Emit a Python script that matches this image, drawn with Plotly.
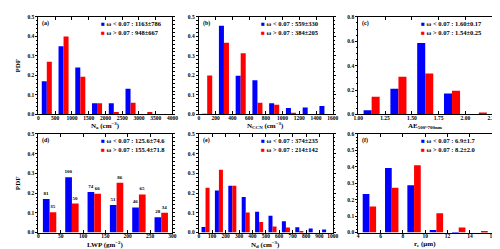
import plotly.graph_objects as go
from plotly.subplots import make_subplots

# ---------------- data ----------------
na_x = [250, 750, 1250, 1750, 2250, 2750, 3250]
na_low = [0.17, 0.35, 0.24, 0.058, 0.058, 0.132, 0.0]
na_high = [0.27, 0.40, 0.193, 0.058, 0.012, 0.06, 0.012]

ccn_x = [100, 300, 500, 700, 900, 1100, 1300, 1500]
ccn_low = [0.003, 0.455, 0.198, 0.175, 0.058, 0.033, 0.035, 0.043]
ccn_high = [0.20, 0.367, 0.313, 0.06, 0.05, 0.008, 0.0, 0.0]

ae_x = [1.125, 1.375, 1.625, 1.875, 2.125]
ae_low = [0.035, 0.21, 0.585, 0.172, 0.0]
ae_high = [0.145, 0.31, 0.335, 0.195, 0.015]

lwp_x = [25, 75, 125, 175, 225, 275]
lwp_low = [0.17, 0.28, 0.205, 0.14, 0.127, 0.078]
lwp_high = [0.103, 0.147, 0.197, 0.252, 0.193, 0.10]
lwp_low_n = ["81", "100", "74", "51", "46", "28"]
lwp_high_n = ["35", "50", "66", "86", "65", "34"]

nd_x = [50, 150, 250, 350, 450, 550, 650, 750, 850, 950]
nd_low = [0.028, 0.213, 0.237, 0.18, 0.105, 0.085, 0.057, 0.027, 0.02, 0.015]
nd_high = [0.227, 0.318, 0.237, 0.102, 0.053, 0.03, 0.025, 0.003, 0.0, 0.0]

re_x = [5, 7, 9, 11, 13, 15]
re_low = [0.235, 0.393, 0.288, 0.015, 0.002, 0.0]
re_high = [0.158, 0.272, 0.41, 0.117, 0.03, 0.006]

# tick labels
na_ticks = ["0", "500", "1000", "1500", "2000", "2500", "3000", "3500", "4000"]
ccn_ticks = ["0", "200", "400", "600", "800", "1000", "1200", "1400", "1600"]
ae_ticks = ["1.00", "1.25", "1.50", "1.75", "2.00", "2.25"]
lwp_ticks = ["0", "50", "100", "150", "200", "250", "300"]
nd_ticks = ["0", "100", "200", "300", "400", "500", "600", "700", "800", "900", "1000"]
re_ticks = ["4", "6", "8", "10", "12", "14", "16"]

panel_labels = ["(a)", "(b)", "(c)", "(d)", "(e)", "(f)"]
legend_low = ["1163±786", "559±330", "1.60±0.17", "125.6±74.6", "374±235", "6.9±1.7"]
legend_high = ["948±667", "384±205", "1.54±0.25", "155.4±71.8", "214±142", "8.2±2.0"]
x_titles = ["N<sub>a</sub> (cm<sup>−3</sup>)", "N<sub>CCN</sub> (cm<sup>−3</sup>)",
            "AE<sub>500~700nm</sub>", "LWP (gm<sup>−2</sup>)",
            "N<sub>d</sub> (cm<sup>−3</sup>)", "r<sub>e</sub> (μm)"]

# ---------------- figure ----------------
FONT = "Liberation Serif"
BLUE = "#0000FF"
RED = "#FF0000"


def f(size):
    return dict(family=FONT, size=size, color="black", weight="bold")


fig = make_subplots(rows=2, cols=3)

panels = [
    (na_x, na_low, na_high, None, None),
    (ccn_x, ccn_low, ccn_high, None, None),
    (ae_x, ae_low, ae_high, None, None),
    (lwp_x, lwp_low, lwp_high, lwp_low_n, lwp_high_n),
    (nd_x, nd_low, nd_high, None, None),
    (re_x, re_low, re_high, None, None),
]
xtick_lists = [na_ticks, ccn_ticks, ae_ticks, lwp_ticks, nd_ticks, re_ticks]

for i, (xs, lo, hi, tlo, thi) in enumerate(panels):
    r, c = i // 3 + 1, i % 3 + 1
    kw_lo = {}
    kw_hi = {}
    if tlo is not None:
        kw_lo = dict(text=tlo, textposition="outside", constraintext="none", cliponaxis=False,
                     textfont=f(5))
        kw_hi = dict(text=thi, textposition="outside", constraintext="none", cliponaxis=False,
                     textfont=f(5))
    fig.add_trace(go.Bar(x=xs, y=lo, marker=dict(color=BLUE, line=dict(width=0)),
                         showlegend=False, **kw_lo), row=r, col=c)
    fig.add_trace(go.Bar(x=xs, y=hi, marker=dict(color=RED, line=dict(width=0)),
                         showlegend=False, **kw_hi), row=r, col=c)

xdoms = [(26 / 500, 163 / 500), (190 / 500, 327 / 500), (353 / 500, 490 / 500)]
ydoms = [(1 - 106 / 249, 1 - 6 / 249), (1 - 227 / 249, 1 - 126 / 249)]
xtitle_y = [1 - 117.5 / 249, 1 - 239 / 249]

yranges = [(0, 0.5, 0.1), (0, 0.5, 0.1), (0, 0.8, 0.2),
           (0, 0.5, 0.1), (0, 0.5, 0.1), (0, 0.6, 0.1)]

for i in range(6):
    r, c = i // 3, i % 3
    labels = xtick_lists[i]
    vals = [float(t) for t in labels]
    yr = yranges[i]
    fig.update_xaxes(
        domain=xdoms[c], range=[vals[0], vals[-1]],
        tickmode="array", tickvals=vals, ticktext=labels,
        showline=True, linecolor="black", linewidth=1, mirror="ticks",
        ticks="inside", ticklen=3, tickwidth=1, tickcolor="black",
        minor=dict(ticks="inside", ticklen=1.5, tickcolor="black", nticks=5),
        showgrid=False, zeroline=False, tickfont=f(5.5), ticklabelstandoff=-2,
        ticklabeloverflow="allow",
        row=r + 1, col=c + 1)
    fig.update_yaxes(
        domain=ydoms[r], range=[yr[0], yr[1] * 1.00001], tick0=0, dtick=yr[2], tickformat=".1f",
        showline=True, linecolor="black", linewidth=1, mirror="ticks",
        ticks="outside", ticklen=2, tickwidth=1, tickcolor="black",
        minor=dict(ticks="outside", ticklen=1.5, tickcolor="black", nticks=5),
        showgrid=False, zeroline=False, tickfont=f(5.5), ticklabeloverflow="allow",
        row=r + 1, col=c + 1)

annotations = []
for i in range(6):
    r, c = i // 3, i % 3
    n = "" if i == 0 else str(i + 1)
    xref = f"x{n} domain"
    yref = f"y{n} domain"
    annotations.append(dict(text=panel_labels[i], x=0.015, y=0.99, xref=xref, yref=yref,
                            xanchor="left", yanchor="top", showarrow=False, font=f(6)))
    annotations.append(dict(text=f"<span style='color:{BLUE}'>■</span> ω < 0.07 : {legend_low[i]}",
                            x=0.45, y=0.93, xref=xref, yref=yref, xanchor="left", yanchor="middle",
                            showarrow=False, font=f(6.5)))
    annotations.append(dict(text=f"<span style='color:{RED}'>■</span> ω > 0.07 : {legend_high[i]}",
                            x=0.45, y=0.84, xref=xref, yref=yref, xanchor="left", yanchor="middle",
                            showarrow=False, font=f(6.5)))
    annotations.append(dict(text=x_titles[i], x=0.5, y=xtitle_y[r], xref=xref, yref="paper",
                            xanchor="center", yanchor="middle", showarrow=False, font=f(7)))
    if c == 0:
        annotations.append(dict(text="PDF", x=5 / 500, y=0.5, xref="paper", yref=yref,
                                xanchor="center", yanchor="middle", textangle=-90,
                                showarrow=False, font=f(7)))

fig.update_layout(
    width=500, height=249, margin=dict(l=0, r=0, t=0, b=0),
    paper_bgcolor="white", plot_bgcolor="white",
    barmode="group", bargap=0.4, bargroupgap=0,
    font=f(6),
    annotations=annotations,
)

fig.write_html("out.html")
